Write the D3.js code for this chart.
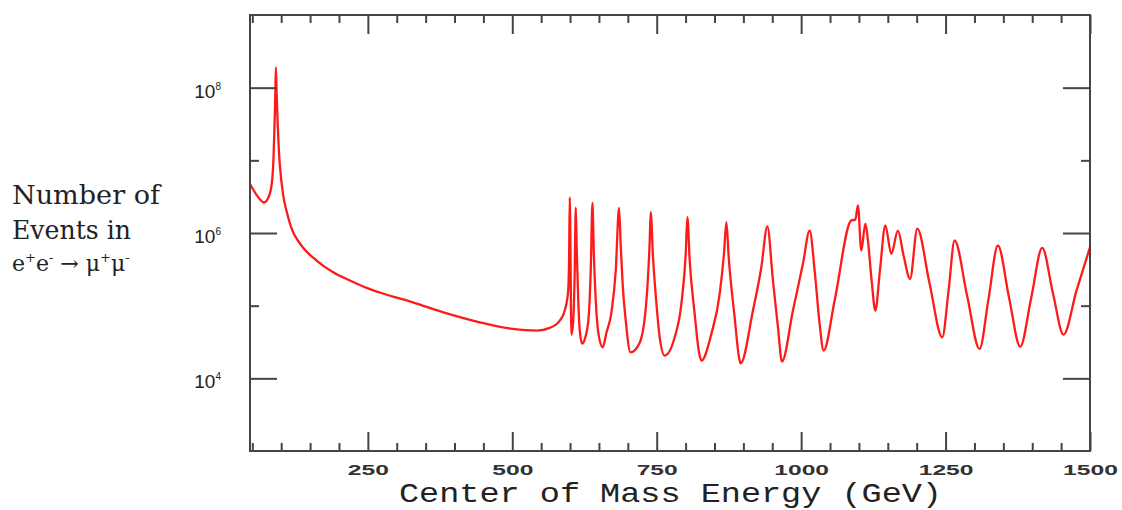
<!DOCTYPE html>
<html><head><meta charset="utf-8">
<script src="https://cdn.jsdelivr.net/npm/d3@7"></script>
<style>body{margin:0;background:#fff}</style>
</head><body>
<svg id="chart" width="1122" height="510"></svg>
<script>
// Center-of-mass energy (GeV)
const energy = [46,58,70,78.7,83.9,86.5,88.2,89.6,90.8,92.2,
93.8,96.0,97.75,103.5,109.9,118.0,132.4,161.2,190.0,218.9,
247.8,276,327.9,386.7,443.8,500.9,542.4,564.9,582.2,590.8,
596.5,598.3,599.5,602.4,605.5,608.1,609.9,611.6,614.2,616.8,
620.8,627.2,632.4,635.8,638.8,641.0,644.5,649.7,656.6,663.0,
671.6,679.1,684.8,687.7,691.2,696.4,704.5,720.6,732.2,737.9,
739.6,743.6,749.5,755.2,763.8,781.1,792.7,800.2,803.1,807.1,
815.7,823.2,827.3,844.6,859.0,866.4,870.6,874.6,884.9,892.4,
895.3,916.6,931.1,941.5,951.2,959.9,966.8,985.8,1003.1,1014.7,
1023.4,1032.0,1038.9,1058.0,1086.8,1093.8,1098.3,1104.1,1111.1,1115.6,
1122.0,1128.4,1136.7,1145.7,1156.0,1167.5,1177.3,1188.6,1201.0,1222.3,
1244.3,1255.2,1265.6,1287.2,1308.8,1324.4,1340.5,1359.9,1379.2,1398.3,
1417.3,1435.6,1454.2,1476.6,1500];
// Number of events e+e- -> mu+mu-
const events = [4.73e6,3.29e6,2.63e6,3.18e6,4.96e6,9.97e6,2.58e7,6.68e7,1.90e8,7.83e7,
3.33e7,1.37e7,8.51e6,3.29e6,1.92e6,1.15e6,7.17e5,4.18e5,2.88e5,2.22e5,
1.76e5,1.47e5,1.11e5,7.85e4,5.91e4,4.79e4,4.54e4,4.95e4,6.23e4,8.56e4,
1.52e5,4.18e5,3.08e6,4.0e4,6.23e4,3.04e5,2.24e6,5.74e5,1.18e5,4.54e4,
3.01e4,3.87e4,7.31e4,3.04e5,2.59e6,5.74e5,1.18e5,3.87e4,2.67e4,4.26e4,
8.04e4,3.04e5,2.22e6,6.73e5,1.89e5,6.23e4,2.28e4,3.10e4,1.18e5,7.89e5,
1.93e6,4.64e5,1.07e5,3.67e4,2.06e4,3.67e4,1.06e5,5.17e5,1.65e6,4.18e5,
7.71e4,2.28e4,1.75e4,4.09e4,1.45e5,5.17e5,1.41e6,4.64e5,6.92e4,1.95e4,
1.61e4,8.56e4,3.38e5,1.23e6,2.22e5,5.04e4,1.70e4,8.56e4,3.77e5,1.08e6,
3.04e5,5.61e4,2.41e4,1.18e5,1.49e6,1.53e6,2.39e6,5.74e5,1.35e6,7.89e5,
2.22e5,8.56e4,3.24e5,1.27e6,5.17e5,1.08e6,4.90e5,2.34e5,1.15e6,2.02e5,
3.67e4,1.61e5,7.89e5,1.38e5,2.54e4,1.25e5,6.73e5,1.29e5,2.73e4,1.29e5,
6.25e5,1.52e5,4.0e4,1.61e5,6.37e5];

const xDomain = [46, 1500];
const yDomain = [1e3, 1e9];
const xMajorTicks = [250, 500, 750, 1000, 1250, 1500];
const xMinorTicks = [50,100,150,200,300,350,400,450,550,600,650,700,800,850,900,950,1050,1100,1150,1200,1300,1350,1400,1450];
const yMajorTicks = [1e4, 1e6, 1e8];
const yMinorTicks = [1e5, 1e7];
const yTickExponents = ["4", "6", "8"];
const xTitle = "Center of Mass Energy (GeV)";
const yTitleLines = ["Number of", "Events in"];

const L = 250, R = 1090, T = 15, B = 451;
const axisColor = "#444";
const svg = d3.select("#chart");

const x = d3.scaleLinear().domain(xDomain).range([L, R]);
const y = d3.scaleLog().domain(yDomain).range([B, T]);

const data = energy.map((e, i) => ({e, n: events[i]}));

svg.append("defs").append("clipPath").attr("id", "clip")
  .append("rect").attr("x", L).attr("y", T).attr("width", R - L).attr("height", B - T);

svg.append("path").datum(data)
  .attr("clip-path", "url(#clip)")
  .attr("fill", "none").attr("stroke", "#ff1a1a").attr("stroke-width", 2.3)
  .attr("stroke-linejoin", "round")
  .attr("d", d3.line().x(d => x(d.e)).y(d => y(d.n)).curve(d3.curveMonotoneX));

function styleAxis(g) {
  g.select(".domain").remove();
  g.selectAll(".tick line").attr("stroke", axisColor).attr("stroke-width", 2);
}

// bottom
const gb = svg.append("g").attr("transform", `translate(0,${B})`)
  .call(d3.axisBottom(x).tickValues(xMajorTicks).tickFormat(d3.format("d"))
        .tickSizeInner(-19).tickSizeOuter(0).tickPadding(13))
  .call(styleAxis);
gb.selectAll(".tick text")
  .attr("font-family", "Liberation Sans, Arial, sans-serif").attr("font-weight", "bold")
  .attr("font-size", 15).attr("fill", "#333")
  .attr("textLength", d => String(d).length * 13.7).attr("lengthAdjust", "spacingAndGlyphs");
svg.append("g").attr("transform", `translate(0,${B})`)
  .call(d3.axisBottom(x).tickValues(xMinorTicks).tickSize(-8).tickFormat(""))
  .call(styleAxis);
// top
svg.append("g").attr("transform", `translate(0,${T})`)
  .call(d3.axisTop(x).tickValues(xMajorTicks).tickSize(-19).tickFormat(""))
  .call(styleAxis);
svg.append("g").attr("transform", `translate(0,${T})`)
  .call(d3.axisTop(x).tickValues(xMinorTicks).tickSize(-8).tickFormat(""))
  .call(styleAxis);
// left
const gl = svg.append("g").attr("transform", `translate(${L},0)`)
  .call(d3.axisLeft(y).tickValues(yMajorTicks).tickSize(-27).tickPadding(29).tickFormat(() => ""))
  .call(styleAxis);
gl.selectAll(".tick text").each(function(d, i) {
  const t = d3.select(this)
    .attr("font-family", "Liberation Sans, Arial, sans-serif")
    .attr("font-size", 19).attr("fill", "#222").attr("dy", "0.5em");
  t.append("tspan").text("10");
  t.append("tspan").attr("font-size", 10).attr("dy", -8).text(yTickExponents[i]);
});
svg.append("g").attr("transform", `translate(${L},0)`)
  .call(d3.axisLeft(y).tickValues(yMinorTicks).tickSize(-9).tickFormat(""))
  .call(styleAxis);
// right
svg.append("g").attr("transform", `translate(${R},0)`)
  .call(d3.axisRight(y).tickValues(yMajorTicks).tickSize(-27).tickFormat(""))
  .call(styleAxis);
svg.append("g").attr("transform", `translate(${R},0)`)
  .call(d3.axisRight(y).tickValues(yMinorTicks).tickSize(-9).tickFormat(""))
  .call(styleAxis);

// frame
svg.append("rect").attr("x", L).attr("y", T).attr("width", R - L).attr("height", B - T)
  .attr("fill", "none").attr("stroke", axisColor).attr("stroke-width", 2);

// x title
svg.append("text").attr("x", 399).attr("y", 502)
  .attr("font-family", "Liberation Mono, Courier New, monospace").attr("font-size", 28)
  .attr("fill", "#222").attr("textLength", 543).attr("lengthAdjust", "spacingAndGlyphs")
  .text(xTitle);

// y title
const yt = svg.append("g").attr("font-family", "DejaVu Serif, Liberation Serif, serif").attr("fill", "#222");
yt.append("text").attr("x", 12).attr("y", 204).attr("font-size", 26)
  .attr("textLength", 148).attr("lengthAdjust", "spacingAndGlyphs").text(yTitleLines[0]);
yt.append("text").attr("x", 12).attr("y", 239).attr("font-size", 26)
  .attr("textLength", 119).attr("lengthAdjust", "spacingAndGlyphs").text(yTitleLines[1]);
const l3 = yt.append("text").attr("x", 12).attr("y", 271).attr("font-size", 22);
l3.append("tspan").text("e");
l3.append("tspan").attr("font-size", 13).attr("dy", -9).text("+");
l3.append("tspan").attr("dy", 9).text("e");
l3.append("tspan").attr("font-size", 13).attr("dy", -9).text("-");
l3.append("tspan").attr("dy", 9).text(" \u2192 \u03bc");
l3.append("tspan").attr("font-size", 13).attr("dy", -9).text("+");
l3.append("tspan").attr("dy", 9).text("\u03bc");
l3.append("tspan").attr("font-size", 13).attr("dy", -9).text("-");
</script>
</body></html>
